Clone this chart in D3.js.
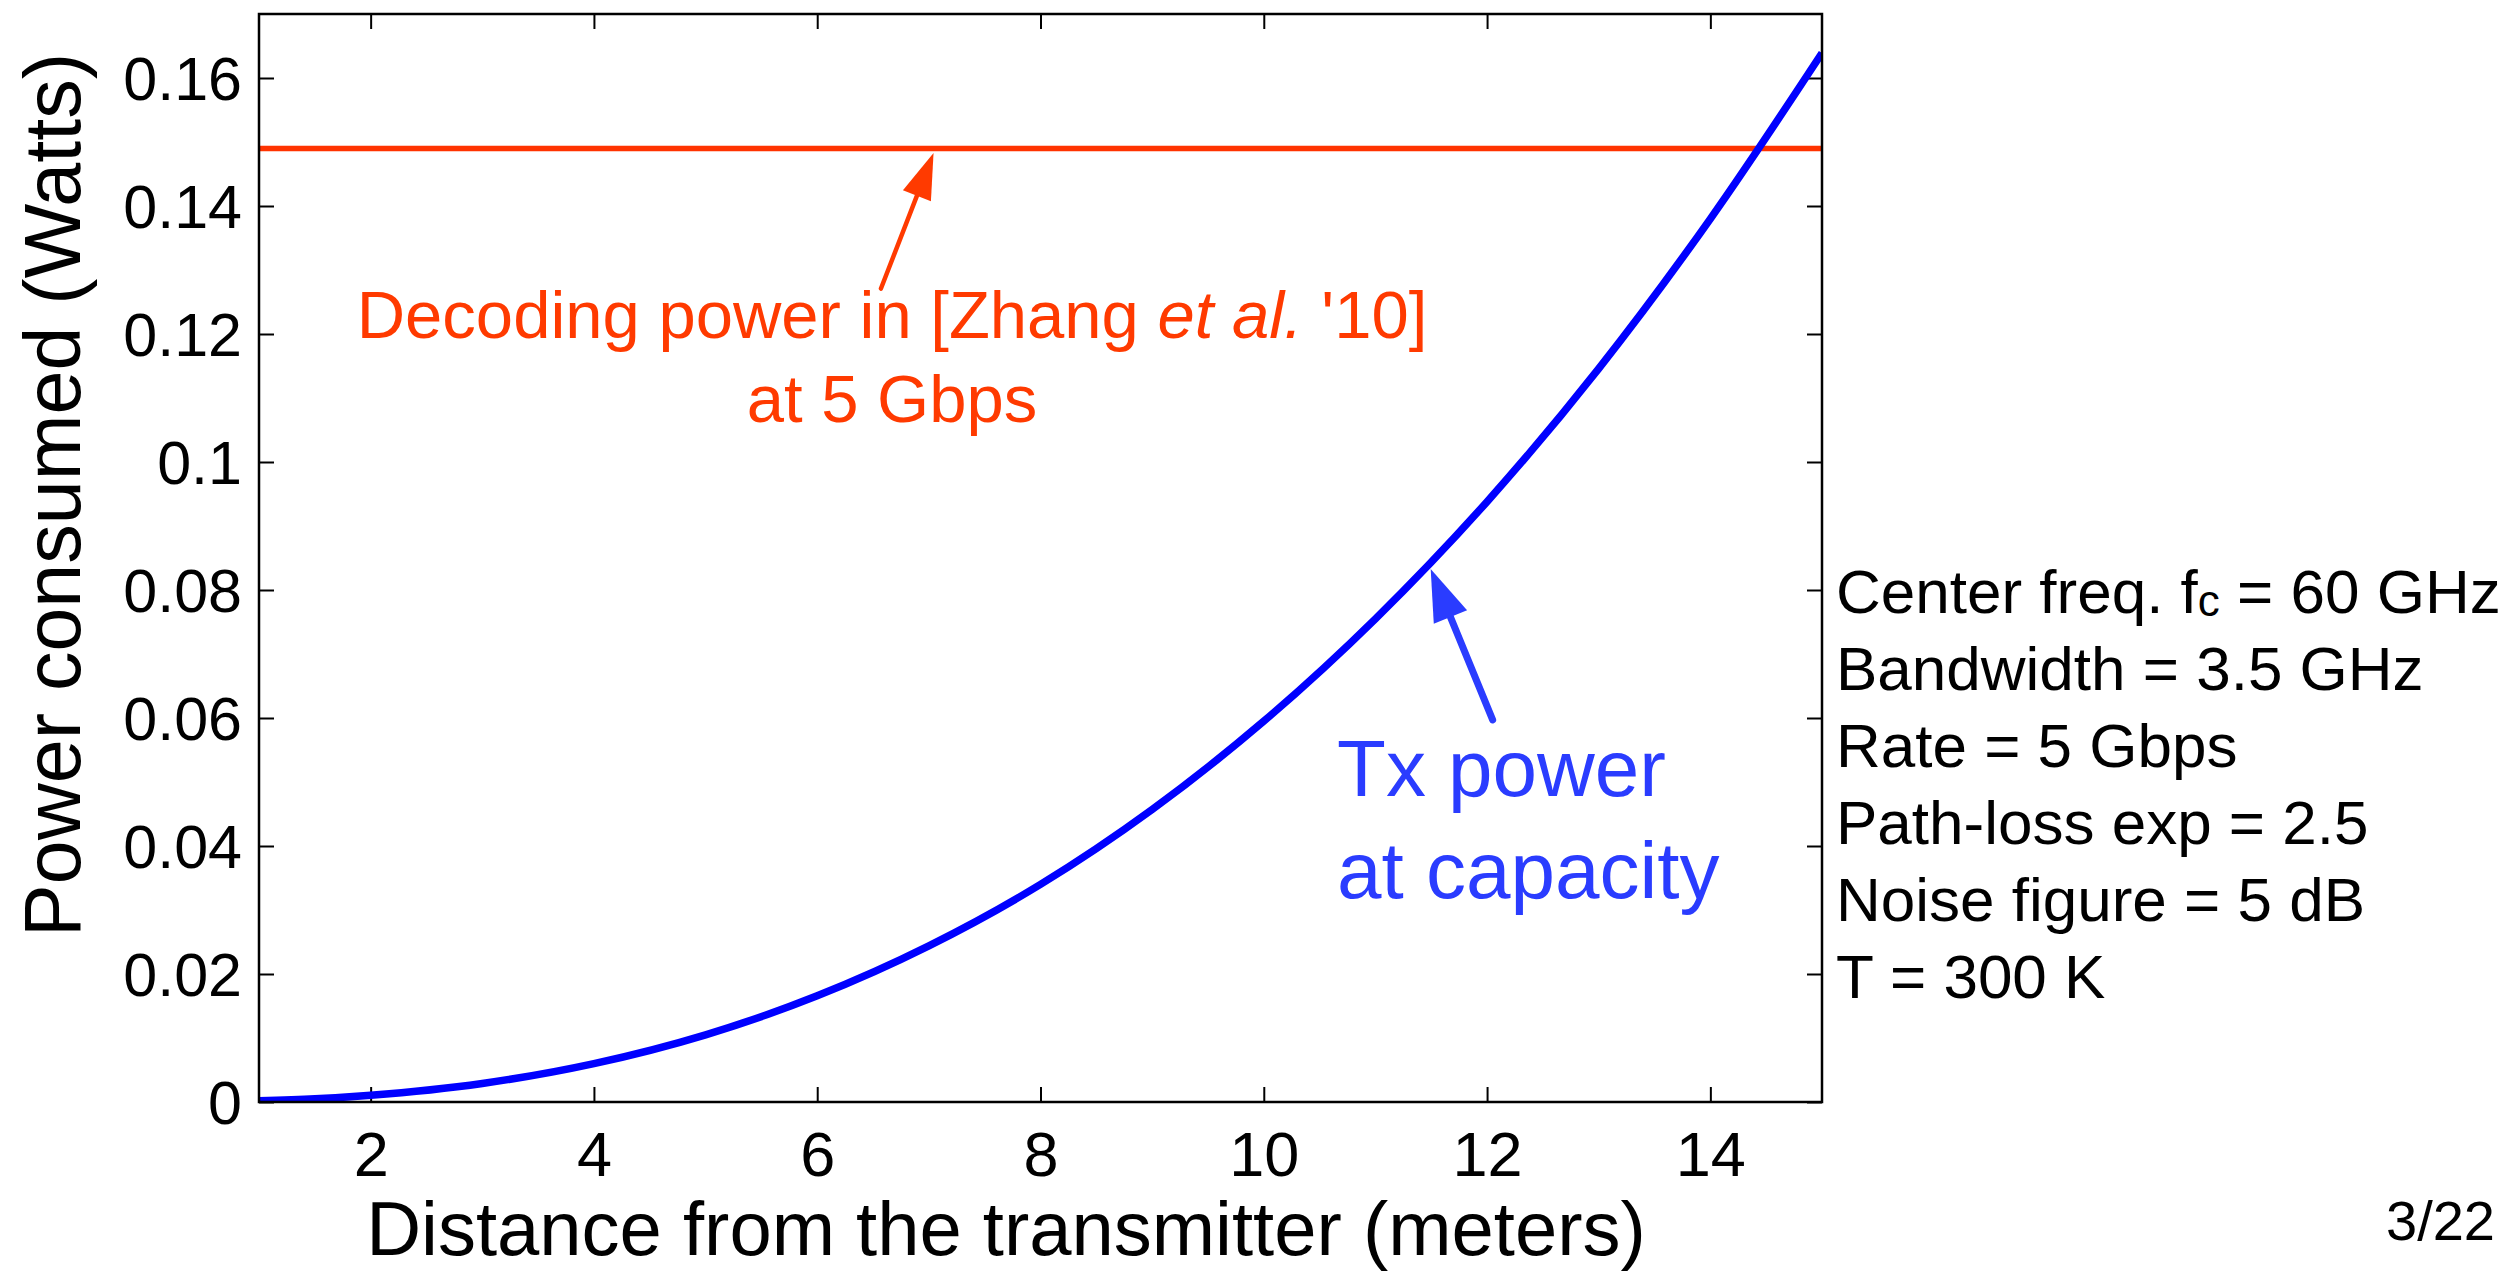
<!DOCTYPE html>
<html>
<head>
<meta charset="utf-8">
<script src="https://cdn.jsdelivr.net/npm/d3@7"></script>
<style>
  body { margin: 0; background: #fff; }
  svg { display: block; }
  text { font-family: "Liberation Sans", Helvetica, Arial, sans-serif; }
</style>
</head>
<body>
<div id="frame"></div>
<script>
const width = 2506
const height = 1273
const margin = { top: 14, right: 684, bottom: 171, left: 259 }

// Tx power at capacity
const distances = [1, 1.5, 2, 3, 4, 5, 6, 7, 8, 9, 10, 11, 12, 13, 14, 15]
const txPower = [0.0002, 0.0005, 0.00106, 0.0029, 0.006, 0.0105, 0.0166, 0.0244, 0.034, 0.0457, 0.0595, 0.0755, 0.0938, 0.1146, 0.138, 0.1639]

// decoding power level (red line)
const decodingPower = 0.149

const xTicks = [2, 4, 6, 8, 10, 12, 14]
const yTicks = [0, 0.02, 0.04, 0.06, 0.08, 0.1, 0.12, 0.14, 0.16]
const yTickLabels = ['0', '0.02', '0.04', '0.06', '0.08', '0.1', '0.12', '0.14', '0.16']

const paramLines = [
  ['Center freq. f', 'c', ' = 60 GHz'],
  ['Bandwidth = 3.5 GHz'],
  ['Rate = 5 Gbps'],
  ['Path-loss exp = 2.5'],
  ['Noise figure = 5 dB'],
  ['T = 300 K']
]

const style = {
  red: '#ff3300',
  redText: '#ff3a00',
  blue: '#0000ff',
  blueText: '#2a3cff',
  axis: '#000'
}

const innerW = width - margin.left - margin.right
const innerH = height - margin.top - margin.bottom

const x = d3.scaleLinear().domain([1, 15]).range([0, innerW])
const y = d3.scaleLinear().domain([0, 0.17]).range([innerH, 0])

const svg = d3.select('#frame')
  .append('svg')
  .attr('width', width)
  .attr('height', height)

const g = svg.append('g')
  .attr('transform', `translate(${margin.left},${margin.top})`)

g.append('clipPath').attr('id', 'clip')
  .append('rect').attr('width', innerW).attr('height', innerH)

function styleAxis(sel) {
  sel.select('.domain').remove()
  sel.selectAll('.tick line').attr('stroke', style.axis).attr('stroke-width', 2)
  sel.selectAll('.tick text').attr('fill', '#000')
}

// bottom + top
g.append('g')
  .attr('transform', `translate(0,${innerH})`)
  .call(d3.axisBottom(x).tickValues(xTicks).tickSizeInner(-15).tickSizeOuter(0).tickPadding(29))
  .call(styleAxis)
  .call(s => s.selectAll('.tick text').attr('font-size', 63))

g.append('g')
  .call(d3.axisTop(x).tickValues(xTicks).tickSizeInner(-15).tickSizeOuter(0).tickFormat(''))
  .call(styleAxis)

// left + right
g.append('g')
  .call(d3.axisLeft(y).tickValues(yTicks).tickSizeInner(-15).tickSizeOuter(0).tickPadding(17)
    .tickFormat((d, i) => yTickLabels[i]))
  .call(styleAxis)
  .call(s => s.selectAll('.tick text').attr('font-size', 61).attr('dy', '0.36em'))

g.append('g')
  .attr('transform', `translate(${innerW},0)`)
  .call(d3.axisRight(y).tickValues(yTicks).tickSizeInner(-15).tickSizeOuter(0).tickFormat(''))
  .call(styleAxis)

// decoding power line
g.append('line')
  .attr('x1', x(1)).attr('x2', x(15))
  .attr('y1', y(decodingPower)).attr('y2', y(decodingPower))
  .attr('stroke', style.red)
  .attr('stroke-width', 5.5)

// tx power curve
const line = d3.line()
  .x((d, i) => x(distances[i]))
  .y(d => y(d))
  .curve(d3.curveMonotoneX)

g.append('path')
  .datum(txPower)
  .attr('clip-path', 'url(#clip)')
  .attr('fill', 'none')
  .attr('stroke', style.blue)
  .attr('stroke-width', 7.5)
  .attr('d', line)

// box
g.append('rect')
  .attr('width', innerW).attr('height', innerH)
  .attr('fill', 'none')
  .attr('stroke', style.axis)
  .attr('stroke-width', 2.5)

function arrow(from, to, color, shaftW, headL, headW) {
  const x0 = x(from[0]), y0 = y(from[1])
  const x1 = x(to[0]), y1 = y(to[1])
  const len = Math.hypot(x1 - x0, y1 - y0)
  const ux = (x1 - x0) / len, uy = (y1 - y0) / len
  const bx = x1 - ux * headL, by = y1 - uy * headL
  g.append('line')
    .attr('x1', x0).attr('y1', y0)
    .attr('x2', bx + ux * 2).attr('y2', by + uy * 2)
    .attr('stroke', color)
    .attr('stroke-width', shaftW)
    .attr('stroke-linecap', 'round')
  g.append('path')
    .attr('d', `M${x1},${y1}L${bx - uy * headW},${by + ux * headW}L${bx + uy * headW},${by - ux * headW}Z`)
    .attr('fill', color)
}

arrow([6.571, 0.1271], [7.042, 0.1483], style.redText, 4.5, 46, 15)
arrow([12.05, 0.0597], [11.495, 0.0833], style.blueText, 7, 52, 18)

// red annotation
const redNote = g.append('text')
  .attr('fill', style.redText)
  .attr('font-size', 67)
  .attr('text-anchor', 'middle')
redNote.append('tspan')
  .attr('x', x(6.67)).attr('y', y(0.1194))
  .text('Decoding power in [Zhang ')
  .append('tspan').attr('font-style', 'italic').text('et al.')
redNote.select('tspan').append('tspan').text(" '10]")
redNote.append('tspan')
  .attr('x', x(6.67)).attr('y', y(0.1063))
  .text('at 5 Gbps')

// blue annotation
const blueNote = g.append('text')
  .attr('fill', style.blueText)
  .attr('font-size', 80)
blueNote.append('tspan').attr('x', x(10.656)).attr('y', y(0.04775)).text('Tx power')
blueNote.append('tspan').attr('x', x(10.656)).attr('y', y(0.0319)).text('at capacity')

// parameters block
const params = svg.append('text')
  .attr('font-size', 62)
  .attr('fill', '#000')
paramLines.forEach((parts, i) => {
  params.append('tspan')
    .attr('x', 1836)
    .attr('y', 613 + i * 77)
    .attr('fill', '#000')
    .text(parts[0])
  if (parts.length > 1) {
    params.append('tspan').attr('fill', '#000').attr('font-size', 44).attr('dy', 3).text(parts[1])
    params.append('tspan').attr('fill', '#000').attr('dy', -3).text(parts[2])
  }
})

// axis titles
svg.append('text')
  .attr('x', 1006).attr('y', 1255)
  .attr('text-anchor', 'middle')
  .attr('font-size', 76)
  .text('Distance from the transmitter (meters)')

svg.append('text')
  .attr('transform', 'translate(80,495) rotate(-90)')
  .attr('text-anchor', 'middle')
  .attr('font-size', 79)
  .text('Power consumed (Watts)')

// page number
svg.append('text')
  .attr('x', 2495).attr('y', 1240)
  .attr('text-anchor', 'end')
  .attr('font-size', 56)
  .text('3/22')
</script>
</body>
</html>
